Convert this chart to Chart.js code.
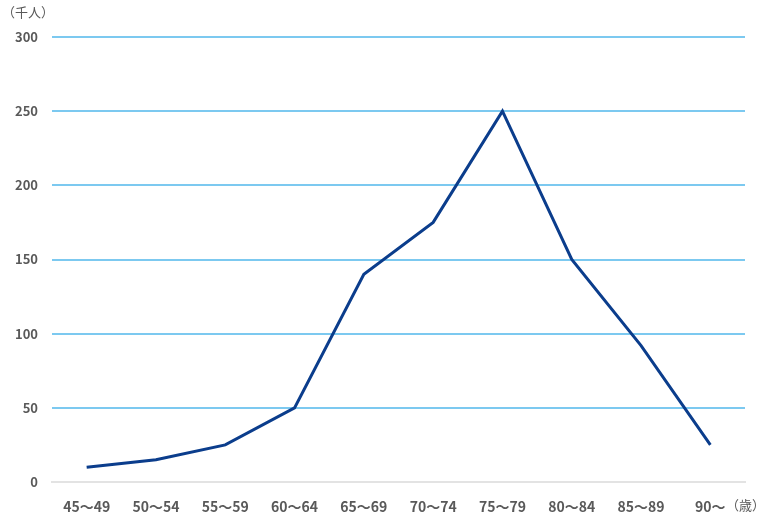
<!DOCTYPE html>
<html>
<head>
<meta charset="utf-8">
<script src="https://cdn.jsdelivr.net/npm/chart.js@4"></script>
<style>
  html, body { margin: 0; padding: 0; background: #fff; }
  #wrap { position: relative; width: 770px; height: 523px; }
</style>
</head>
<body>
<div id="wrap"><canvas id="myChart" width="770" height="523"></canvas></div>
<script>
// data ---------------
const ageGroups = ['45～49', '50～54', '55～59', '60～64', '65～69', '70～74', '75～79', '80～84', '85～89', '90～'];
const people = [10, 15, 25, 50, 140, 175, 250, 150, 92, 25];
const yTicks = [0, 50, 100, 150, 200, 250, 300];

const font = '"Noto Sans CJK JP", "Noto Sans", sans-serif';

// unit labels drawn on the canvas
const unitLabels = {
  id: 'unitLabels',
  afterDraw(chart) {
    const c = chart.ctx;
    c.save();
    c.fillStyle = '#595959';
    c.font = '13px ' + font;
    c.textBaseline = 'middle';
    c.textAlign = 'left';
    c.fillText('（千人）', 2, 12);
    c.fillText('（歳）', 726, 505);
    c.restore();
  }
};

const ctx = document.getElementById('myChart');

new Chart(ctx, {
  type: 'line',
  data: {
    labels: ageGroups,
    datasets: [{
      data: people,
      borderColor: '#0b3d8c',
      borderWidth: 3,
      pointRadius: 0,
      tension: 0,
      fill: false
    }]
  },
  options: {
    responsive: false,
    animation: false,
    layout: { padding: { left: 0, right: 25, top: 37, bottom: 0 } },
    plugins: { legend: { display: false }, tooltip: { enabled: false } },
    scales: {
      x: {
        offset: true,
        grid: { display: false },
        border: { display: true, color: '#e3e3e3', width: 2, z: 1 },
        ticks: { color: '#595959', padding: 8, maxRotation: 0, font: { family: font, size: 14, weight: 'bold' } },
        afterFit(s) { s.height = 41; }
      },
      y: {
        min: 0,
        max: 300,
        afterBuildTicks(s) { s.ticks = yTicks.map(v => ({ value: v })); },
        grid: {
          drawTicks: false,
          color: '#7cc9f0',
          lineWidth: 2
        },
        border: { display: false },
        ticks: { color: '#595959', padding: 14, font: { family: font, size: 13, weight: 'bold' } },
        afterFit(s) { s.width = 52; }
      }
    }
  },
  plugins: [unitLabels]
});
</script>
</body>
</html>
